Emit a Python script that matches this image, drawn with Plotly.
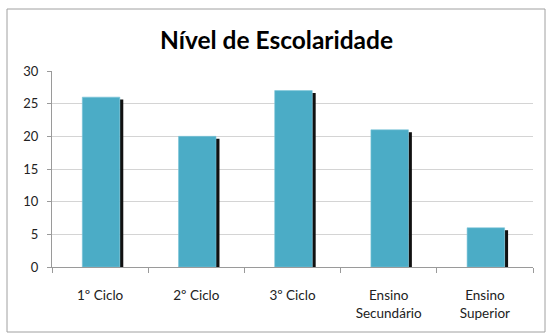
import plotly.graph_objects as go

categories = ["1º Ciclo", "2º Ciclo", "3º Ciclo", "Ensino<br>Secundário", "Ensino<br>Superior"]
values = [26, 20, 27, 21, 6]
y_ticks = [0, 5, 10, 15, 20, 25, 30]

W, H = 552, 335
L, R, T, B = 52, 19, 71, 68
pw, ph = W - L - R, H - T - B

shadow_drop = 0.37
fig = go.Figure()
fig.add_trace(go.Bar(
    x=categories, y=[v - shadow_drop for v in values],
    width=0.036, offset=0.205,
    marker=dict(color="#111111", line=dict(width=0)),
    hoverinfo="skip", showlegend=False,
))
fig.add_trace(go.Bar(
    x=categories, y=values,
    width=0.39, offset=-0.185,
    marker=dict(color="#4BACC6", line=dict(color="#7CC4D8", width=0.6)),
    showlegend=False,
))

fig.update_layout(
    width=W, height=H,
    margin=dict(l=L, r=R, t=T, b=B, pad=0),
    paper_bgcolor="white", plot_bgcolor="white",
    barmode="overlay",
    font=dict(family="Lato, 'Open Sans', sans-serif", size=13, color="#222222"),
    title=dict(
        text="<b>Nível de Escolaridade</b>",
        font=dict(family="Lato, 'Open Sans', sans-serif", size=24.5, color="#000000"),
        x=(276.5) / W, xanchor="center",
        y=1 - 40 / H, yanchor="middle",
    ),
    xaxis=dict(
        type="category",
        showline=True, linecolor="#9a9a9a", linewidth=1,
        ticks="outside", tickson="boundaries", ticklen=5, tickcolor="#9a9a9a",
        showgrid=False,
        tickfont=dict(size=13.5, color="#222222"),
        ticklabelstandoff=16,
        range=[-0.5, 4.5],
    ),
    yaxis=dict(
        range=[0, 30], tickvals=y_ticks,
        showline=True, linecolor="#9a9a9a", linewidth=1,
        ticks="outside", ticklen=4, tickcolor="#9a9a9a",
        showgrid=True, gridcolor="#d4d4d4", gridwidth=1,
        zeroline=False,
        tickfont=dict(size=13, color="#222222"),
        ticklabelstandoff=6,
    ),
    shapes=[dict(
        type="rect", xref="paper", yref="paper",
        x0=(7 - L) / pw, x1=(545 - L) / pw,
        y0=(H - B - 332) / ph, y1=(H - B - 9) / ph,
        line=dict(color="#a0a0a0", width=1), fillcolor="rgba(0,0,0,0)", layer="below",
    )],
)

fig.write_html("out.html")
